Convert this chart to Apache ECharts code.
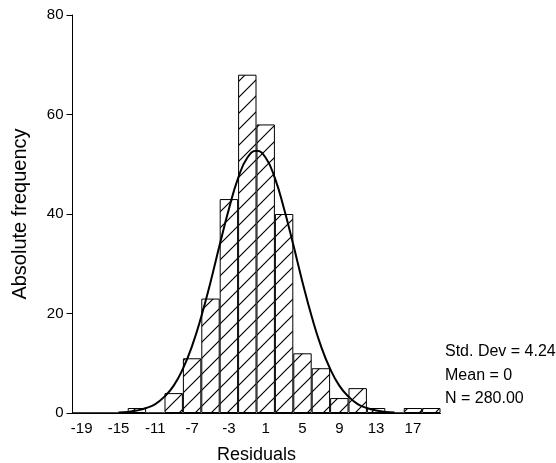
<!DOCTYPE html>
<html>
<head>
<meta charset="utf-8">
<script src="https://cdn.jsdelivr.net/npm/echarts@6/dist/echarts.min.js"></script>
<style>html,body{margin:0;padding:0;background:#fff}#c{width:556px;height:463px}</style>
</head>
<body>
<div id="c"></div>
<script>
// Bin centers (bin width 2)
var categories = ['-19','-17','-15','-13','-11','-9','-7','-5','-3','-1','1','3','5','7','9','11','13','15','17','19'];
// Absolute frequencies per bin
var frequencies = [0,0,0,1,0,4,11,23,43,68,58,40,12,9,3,5,1,0,1,1];
// Fitted normal curve
var curveX = [-15,-14,-13,-12,-11,-10,-9,-8,-7,-6,-5,-4,-3,-2,-1,0,1,2,3,4,5,6,7,8,9,10,11,12,13,14,15];
var curveY = [0.1,0.2,0.5,1.0,1.8,3.3,5.5,8.9,13.5,19.4,26.3,33.8,41.0,47.2,51.3,52.7,51.3,47.2,41.0,33.8,26.3,19.4,13.5,8.9,5.5,3.3,1.8,1.0,0.5,0.2,0.1];
var yTicks = [0,20,40,60,80];
var stats = ['Std. Dev = 4.24', 'Mean = 0', 'N = 280.00'];

var pc = document.createElement('canvas');
pc.width = 16; pc.height = 16;
var g = pc.getContext('2d');
g.fillStyle = '#fff'; g.fillRect(0,0,16,16);
g.strokeStyle = '#000'; g.lineWidth = 1.2;
g.beginPath();
g.moveTo(-2,18); g.lineTo(18,-2);
g.moveTo(-2,2); g.lineTo(2,-2);
g.moveTo(14,18); g.lineTo(18,14);
g.stroke();

var font = 'Liberation Sans, Arial, Helvetica, sans-serif';
var chart = echarts.init(document.getElementById('c'), null, {renderer:'canvas'});
chart.setOption({
  animation: false,
  backgroundColor: '#fff',
  grid: {left: 72.5, right: 115.5, top: 15, bottom: 50, containLabel: false, outerBoundsMode: 'none'},
  xAxis: [{
    type: 'category',
    data: categories,
    boundaryGap: true,
    name: 'Residuals',
    nameLocation: 'middle',
    nameGap: 33,
    nameTextStyle: {fontFamily: font, fontSize: 18, color: '#000'},
    axisLine: {onZero: false, lineStyle: {color: '#000', width: 1}},
    axisTick: {alignWithLabel: true, interval: 1, length: 4, lineStyle: {color: '#000'}},
    axisLabel: {interval: 1, margin: 8, fontFamily: font, fontSize: 15, color: '#000'},
    splitLine: {show: false}
  }, {
    type: 'value',
    min: -20, max: 20,
    show: false
  }],
  yAxis: {
    type: 'value',
    min: yTicks[0], max: yTicks[yTicks.length-1], interval: 20,
    name: 'Absolute frequency',
    nameLocation: 'middle',
    nameRotate: 90,
    nameGap: 42,
    nameTextStyle: {fontFamily: font, fontSize: 20, color: '#000'},
    axisLine: {show: true, onZero: false, lineStyle: {color: '#000', width: 1}},
    axisTick: {show: true, length: 6, lineStyle: {color: '#000'}},
    axisLabel: {margin: 9, fontFamily: font, fontSize: 15, color: '#000'},
    splitLine: {show: false}
  },
  series: [{
    type: 'bar',
    data: frequencies,
    barCategoryGap: 0,
    barGap: 0,
    itemStyle: {color: {image: pc, repeat: 'repeat'}, borderColor: '#000', borderWidth: 1},
    z: 2
  }, {
    type: 'line',
    xAxisIndex: 1,
    data: curveX.map(function(x,i){return [x, curveY[i]];}),
    smooth: true,
    showSymbol: false,
    lineStyle: {color: '#000', width: 2},
    z: 3
  }],
  graphic: stats.map(function(t,i){
    return {type:'text', left: 445, top: 344 + i*23.5, style:{text: t, font: '16px ' + font, fill: '#000'}};
  })
});
</script>
</body>
</html>
